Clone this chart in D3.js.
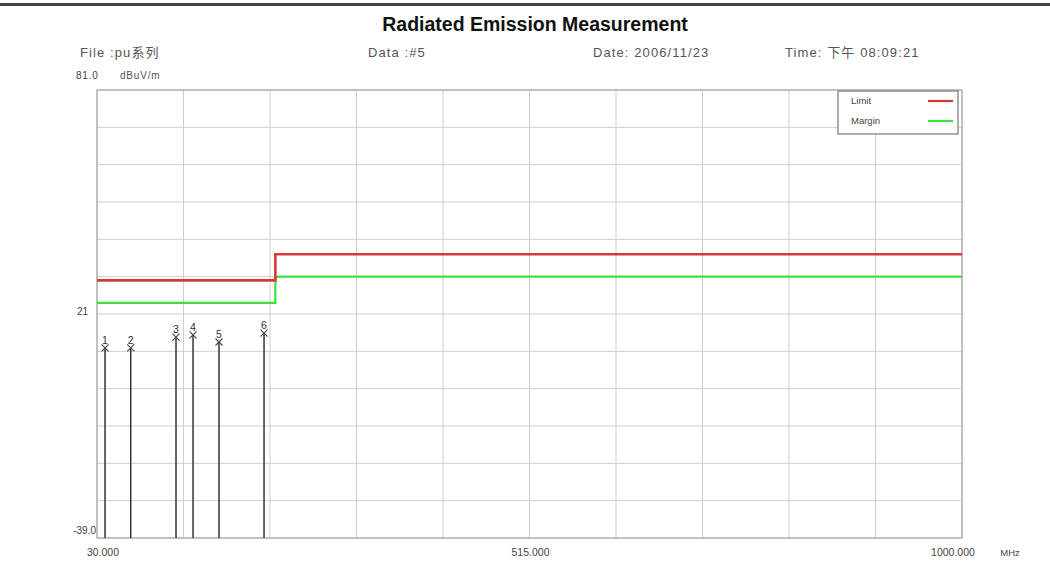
<!DOCTYPE html>
<html><head><meta charset="utf-8">
<script src="https://cdn.jsdelivr.net/npm/d3@7"></script>
<style>body{margin:0;background:#fff;} svg{display:block;}</style>
</head><body>
<svg id="c" width="1050" height="562"></svg>
<script>
const limitFreq = [30, 230, 230, 1000];
const limitVals = [30, 30, 37, 37];
const marginVals = [24, 24, 31, 31];
const markerIds = ["1","2","3","4","5","6"];
const markerFreq = [39.0, 67.8, 118.6, 137.7, 166.8, 217.3];
const markerLevel = [11.9, 11.9, 14.8, 15.4, 13.5, 15.9];
const yTickLabels = [["81.0",81],["21",21],["-39.0",-39]];
const xTickLabels = [["30.000",30],["515.000",515],["1000.000",1000]];

const svg = d3.select("#c");
const L=97,R=962,T=90,B=538;
const x = d3.scaleLinear().domain([30,1000]).range([L,R]);
const y = d3.scaleLinear().domain([-39,81]).range([B,T]);
const font = "Liberation Sans, Arial, sans-serif";

// top rule
svg.append("rect").attr("x",0).attr("y",3).attr("width",1050).attr("height",3).attr("fill","#444");

svg.append("text").attr("x",535).attr("y",31).attr("text-anchor","middle")
  .attr("font-family",font).attr("font-weight","bold").attr("font-size",19.5).attr("fill","#111")
  .text("Radiated Emission Measurement");
const hdr=[["File :pu系列",80],["Data :#5",368],["Date: 2006/11/23",593],["Time: 下午 08:09:21",785]];
hdr.forEach(h=>svg.append("text").attr("x",h[1]).attr("y",57).attr("font-family",font+",Noto Sans CJK SC")
  .attr("font-size",13).attr("letter-spacing",1.1).attr("fill","#555").text(h[0]));
svg.append("text").attr("x",120).attr("y",79).attr("font-family",font).attr("font-size",10)
  .attr("letter-spacing",0.8).attr("fill","#555").text("dBuV/m");

// grid
const g = svg.append("g");
g.selectAll(".gx").data(d3.range(0,11)).join("line")
  .attr("x1",i=>x(30+97*i)).attr("x2",i=>x(30+97*i)).attr("y1",T).attr("y2",B)
  .attr("stroke","#cfcfcf").attr("stroke-width",1);
g.selectAll(".gy").data(d3.range(0,13)).join("line")
  .attr("y1",i=>y(-39+10*i)).attr("y2",i=>y(-39+10*i)).attr("x1",L).attr("x2",R)
  .attr("stroke","#cfcfcf").attr("stroke-width",1);
svg.append("rect").attr("x",L).attr("y",T).attr("width",R-L).attr("height",B-T)
  .attr("fill","none").attr("stroke","#a8a8a8").attr("stroke-width",1.2);

// y labels
yTickLabels.forEach(([t,v])=>{
  let yy = v===81 ? 79 : (v===-39 ? y(v)-4 : y(v)+1);
  svg.append("text").attr("x", v===81?76:(v===-39?96:88)).attr("y",yy)
    .attr("text-anchor", v===81?"start":"end").attr("font-family",font)
    .attr("font-size",10).attr("letter-spacing",v===81?0.8:0).attr("fill","#444").text(t);
});
// x labels
xTickLabels.forEach(([t,v])=>{
  svg.append("text").attr("x",x(v)+(v===30?6:(v===1000?-9:1))).attr("y",556).attr("text-anchor","middle")
    .attr("font-family",font).attr("font-size",10.5).attr("fill","#444").text(t);
});
svg.append("text").attr("x",1010).attr("y",556).attr("text-anchor","middle")
  .attr("font-family",font).attr("font-size",9.5).attr("fill","#444").text("MHz");

// lines
const line = d3.line().x(d=>x(d[0])).y(d=>y(d[1]));
svg.append("path").attr("d",line(limitFreq.map((f,i)=>[f,marginVals[i]])))
  .attr("fill","none").attr("stroke","#3ee03e").attr("stroke-width",2.2);
svg.append("path").attr("d",line(limitFreq.map((f,i)=>[f,limitVals[i]])))
  .attr("fill","none").attr("stroke","#d9383a").attr("stroke-width",2.6);

// markers
markerFreq.forEach((f,i)=>{
  const cx=x(f), cy=y(markerLevel[i]);
  svg.append("line").attr("x1",cx).attr("x2",cx).attr("y1",cy).attr("y2",B)
    .attr("stroke","#333").attr("stroke-width",1.5);
  svg.append("path").attr("d",`M${cx-3.5},${cy-3.5}L${cx+3.5},${cy+3.5}M${cx+3.5},${cy-3.5}L${cx-3.5},${cy+3.5}`)
    .attr("stroke","#444").attr("stroke-width",1.1);
  svg.append("text").attr("x",cx).attr("y",cy-4).attr("text-anchor","middle")
    .attr("font-family",font).attr("font-size",10.5).attr("fill","#333").text(markerIds[i]);
});

// legend
const lg = svg.append("g");
lg.append("rect").attr("x",838).attr("y",91).attr("width",120).attr("height",43)
  .attr("fill","#fff").attr("stroke","#777").attr("stroke-width",1.2);
[["Limit","#d9383a"],["Margin","#3ee03e"]].forEach((d,i)=>{
  lg.append("text").attr("x",851).attr("y",104+i*20).attr("font-family",font).attr("font-size",9.5).attr("fill","#444").text(d[0]);
  lg.append("line").attr("x1",928).attr("x2",953).attr("y1",101+i*20).attr("y2",101+i*20)
    .attr("stroke",d[1]).attr("stroke-width",2.2);
});
</script>
</body></html>
